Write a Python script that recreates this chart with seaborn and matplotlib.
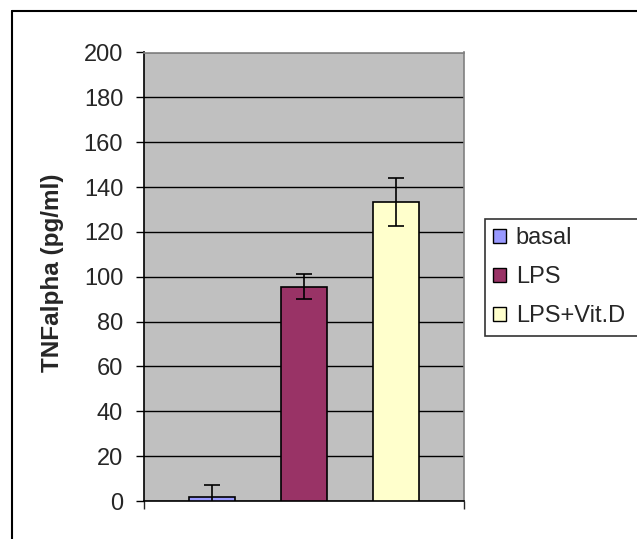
import matplotlib
matplotlib.use("Agg")
import matplotlib.pyplot as plt
import seaborn as sns
import pandas as pd
from matplotlib.patches import Rectangle
from matplotlib.lines import Line2D

# values
groups = ["basal", "LPS", "LPS+Vit.D"]
means = [1.6, 95.6, 133.4]
errors = [5.4, 5.7, 10.8]
colors = ["#9999FF", "#993366", "#FFFFCC"]
yticks = list(range(0, 201, 20))

df = pd.DataFrame({"group": groups, "value": means})

sns.set_style("white")
plt.rcParams["font.family"] = ["Liberation Sans", "DejaVu Sans"]

fig = plt.figure(figsize=(6.37, 5.39), dpi=100)
ax = fig.add_axes([144 / 637, 1 - 501 / 539, 320 / 637, 448.5 / 539])
ax.set_facecolor("#C0C0C0")

sns.barplot(data=df, x="group", y="value", hue="group", palette=colors,
            saturation=1, width=0.5, dodge=False, edgecolor="black",
            linewidth=1.2, legend=False, ax=ax, zorder=3)
ax.errorbar(range(len(groups)), means, yerr=errors, fmt="none",
            ecolor="black", elinewidth=1.2, capsize=5.5, capthick=1.2, zorder=4)

ax.set_ylim(0, 200)
ax.set_xlim(-0.745, 2.745)
ax.set_yticks(yticks)
ax.set_xticks([-0.745, 2.745])
ax.set_xticklabels([])
ax.tick_params(axis="y", direction="out", length=6, width=1, labelsize=17,
               left=True, color="black", pad=9)
ax.tick_params(axis="x", direction="out", length=6, width=1, bottom=True)
ax.yaxis.grid(True, color="black", linewidth=1)
ax.set_axisbelow(True)
ax.set_xlabel("")
ax.set_ylabel("")
fig.text(53 / 637, 1 - 273 / 539, "TNFalpha (pg/ml)", rotation=90,
         ha="center", va="center", fontsize=17.5, fontweight="bold")

for side in ["left", "bottom"]:
    ax.spines[side].set_color("black")
    ax.spines[side].set_linewidth(1.2)
for side in ["top", "right"]:
    ax.spines[side].set_color("#808080")
    ax.spines[side].set_linewidth(1.2)
    ax.spines[side].set_visible(True)

handles = [Rectangle((0, 0), 1, 1, facecolor=c, edgecolor="black", linewidth=1)
           for c in colors]
# legend box runs off the right edge of the image, as in the reference
leg = fig.legend(handles, groups, loc="upper left",
                 bbox_to_anchor=(485 / 637, 1 - 219 / 539, 0.3, 0),
                 mode="expand", fontsize=17, frameon=True, fancybox=False,
                 edgecolor="black", handlelength=0.55, handleheight=0.55,
                 handletextpad=0.4, labelspacing=0.72, borderpad=0.35,
                 borderaxespad=0)
leg.get_frame().set_linewidth(1.2)

# outer chart border: only left and top edges fall inside the image
fig.add_artist(Line2D([12 / 637, 12 / 637], [0, 1 - 11 / 539],
                      transform=fig.transFigure, color="black", linewidth=1.5))
fig.add_artist(Line2D([12 / 637, 1], [1 - 11 / 539, 1 - 11 / 539],
                      transform=fig.transFigure, color="black", linewidth=1.5))

fig.savefig("out.png", dpi=100)
